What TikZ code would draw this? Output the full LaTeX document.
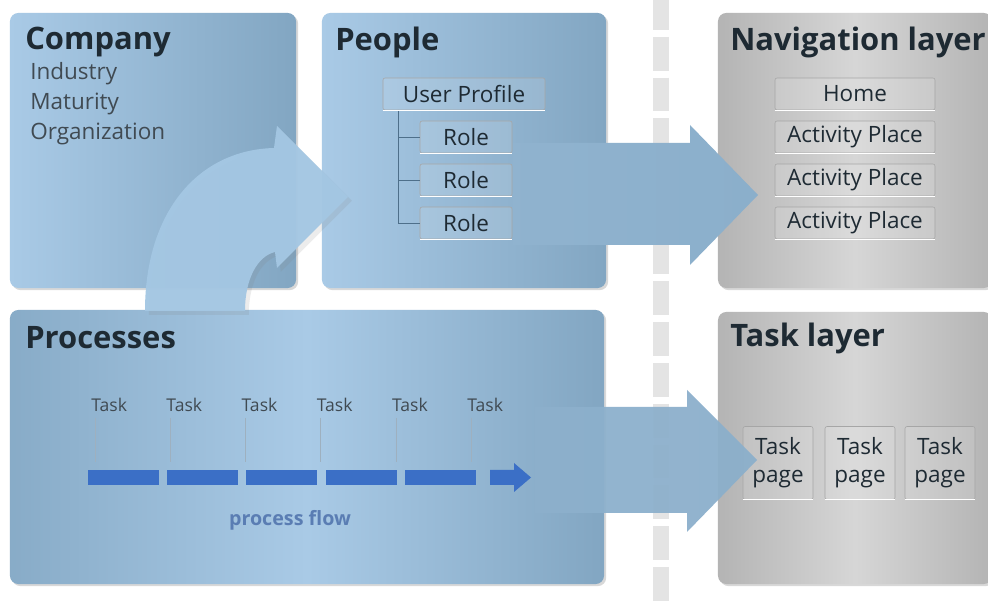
\documentclass[tikz,border=0pt]{standalone}
\usepackage{fontspec}
\setmainfont{Open Sans}
\usetikzlibrary{shadows}

\definecolor{boxlight}{HTML}{A9CAE6}
\definecolor{boxdark}{HTML}{82A6C2}
\definecolor{greylight}{HTML}{D6D6D6}
\definecolor{greydark}{HTML}{B4B4B4}
\definecolor{arrowblue}{HTML}{8BAFCB}
\definecolor{curveblue}{HTML}{A4C7E3}
\definecolor{flowblue}{HTML}{3B6FC6}
\definecolor{flowtext}{HTML}{5A7DB3}
\definecolor{inktext}{HTML}{1E2A33}
\definecolor{dashgrey}{HTML}{E4E4E4}
\definecolor{treeline}{HTML}{4E6F8A}

\tikzset{
    bluebox/.style={rounded corners=6pt, left color=boxlight, right color=boxdark,
        drop shadow={shadow xshift=1.5pt, shadow yshift=-1.5pt, opacity=0.3}},
    greybox/.style={rounded corners=6pt, left color=greydark, right color=greydark, middle color=greylight,
        drop shadow={shadow xshift=1.5pt, shadow yshift=-1.5pt, opacity=0.3}},
    title/.style={font=\fontsize{22}{26}\selectfont\bfseries, text=inktext, anchor=west, inner sep=0pt},
    item/.style={draw=black!35, line width=0.4pt, fill=white, fill opacity=0.12, text opacity=1,
        text=inktext, font=\fontsize{16}{19}\selectfont, rounded corners=1.5pt, inner sep=0pt},
    tasklbl/.style={font=\fontsize{12.5}{15}\selectfont, text=inktext!85, anchor=west, inner sep=0pt},
    tickline/.style={draw=treeline!55, line width=0.4pt}
}

\begin{document}
\begin{tikzpicture}[x=0.025cm, y=-0.025cm]
    \fill[white] (0,0) rectangle (988,602);
    \useasboundingbox (0,0) rectangle (988,602);

    % Separator between model and layers
    \draw[dashgrey, line width=12pt, dash pattern=on 24pt off 5pt] (661,-4) -- (661,606);

    % Boxes
    \node[bluebox, minimum width=7.15cm, minimum height=6.875cm] (company) at (153,150.5) {};
    \node[bluebox, minimum width=7.1cm, minimum height=6.875cm] (people) at (464,150.5) {};
    \node[greybox, minimum width=6.85cm, minimum height=6.875cm] (nav) at (855,150.5) {};
    \node[bluebox, left color=boxdark!85!boxlight, right color=boxdark, middle color=boxlight,
        minimum width=14.85cm, minimum height=6.85cm] (proc) at (307,447) {};
    \node[greybox, minimum width=6.85cm, minimum height=6.8cm] (tasklayer) at (855,448) {};

    % Titles
    \node[title] (companyttl) at (25,42) {Company};
    \node[title] (peoplettl) at (335,42) {People};
    \node[title] (navttl) at (730,42) {Navigation layer};
    \node[title] (procttl) at (25,338) {Processes};
    \node[title] (taskttl) at (730,338) {Task layer};

    \node[anchor=north west, align=left, inner sep=0pt, text=inktext!85,
        font=\fontsize{16}{21.5}\selectfont] (companylist) at (30,62) {Industry\\Maturity\\Organization};

    % People to navigation
    \path[left color=boxdark!65!boxlight, right color=arrowblue]
        (513,143) -- (690,143) -- (690,125) -- (758,195) -- (690,265) -- (690,245) -- (513,245) -- cycle;

    % People
    \node[item, minimum width=4.05cm, minimum height=0.8cm] (profile) at (464,94) {User Profile};
    \foreach \i/\y in {1/137, 2/180, 3/223}
        \node[item, minimum width=2.3cm, minimum height=0.8cm] (role\i) at (466,\y) {Role};
    \coordinate (treetop) at (398,110);
    \draw[treeline, line width=0.5pt] (treetop) |- (role3.west);
    \draw[treeline, line width=0.5pt] (treetop |- role1.west) -- (role1.west);
    \draw[treeline, line width=0.5pt] (treetop |- role2.west) -- (role2.west);

    % Navigation layer
    \node[item, minimum width=4.0cm, minimum height=0.8cm] (home) at (855,94) {Home};
    \foreach \i/\y in {1/137, 2/180, 3/223}
        \node[item, minimum width=4.0cm, minimum height=0.8cm] (act\i) at (855,\y) {Activity Place};

    % Task layer
    \foreach \i/\x in {1/778, 2/860, 3/940}
        \node[item, minimum width=1.75cm, minimum height=1.825cm, align=center,
            font=\fontsize{16}{20}\selectfont] (page\i) at (\x,463) {Task\\page};

    \foreach \n in {profile, role1, role2, role3, home, act1, act2, act3, page1, page2, page3}
        \draw[white, line width=1pt] (\n.south west) -- (\n.south east);

    % Processes to task layer
    \path[left color=boxdark!72!boxlight, right color=arrowblue, fill opacity=0.94]
        (535,407) -- (687,407) -- (687,390) -- (757,460) -- (687,532) -- (687,513) -- (535,513) -- cycle;

    % Process flow
    \foreach \i in {0,...,5} {
        \node[tasklbl] (task\i) at (91+75.2*\i,405) {Task};
        \draw[tickline] (95+75.2*\i,418) -- (95+75.2*\i,462);
    }
    \foreach \i in {0,...,4}
        \fill[flowblue] (88+79.2*\i,470) rectangle ++(71,15);
    \fill[flowblue] (490,470) rectangle (514,485) -- (514,463) -- (531,477.5) -- (514,492) -- cycle;
    \node[font=\fontsize{14}{17}\selectfont\bfseries, text=flowtext] (flowlbl) at (290,520) {process flow};

    % Company and processes into people
    \fill[curveblue, fill opacity=0.96, drop shadow={opacity=0.15}]
        (145,311) .. controls (145,212) and (198,150) .. (274,148) -- (277,126) -- (348,197)
        -- (277,268) -- (275,252) .. controls (258,256) and (245,278) .. (245,311) -- cycle;
\end{tikzpicture}
\end{document}
